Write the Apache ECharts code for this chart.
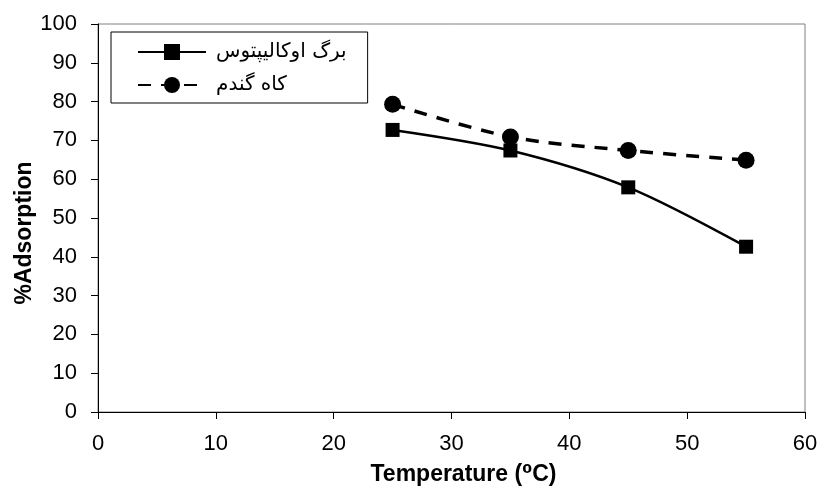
<!DOCTYPE html>
<html>
<head>
<meta charset="utf-8">
<script src="https://cdn.jsdelivr.net/npm/echarts@6/dist/echarts.min.js"></script>
<style>
  html, body { margin: 0; padding: 0; background: #fff; }
  #chart { width: 819px; height: 486px; }
</style>
</head>
<body>
<div id="chart"></div>
<script>
// Adsorption percentage versus temperature for two biosorbents
const temperatures = [25, 35, 45, 55];
const eucalyptusLeaf = [72.7, 67.4, 57.9, 42.6];   // برگ اوکالیپتوس
const wheatStraw = [79.3, 70.9, 67.4, 64.9];       // کاه گندم
const seriesNames = ['برگ اوکالیپتوس', 'کاه گندم'];

const chart = echarts.init(document.getElementById('chart'));
const fontFamily = '"Liberation Sans", Arial, "DejaVu Sans", sans-serif';

chart.setOption({
  animation: false,
  backgroundColor: '#fff',
  grid: {
    left: 98, right: 14, top: 24, bottom: 74,
    outerBoundsMode: 'none',
    containLabel: false,
    show: true, borderColor: '#808080', borderWidth: 1
  },
  legend: {
    left: 111, top: 32,
    orient: 'vertical',
    padding: [10, 21, 8, 26],
    itemGap: 13,
    itemWidth: 68,
    itemHeight: 20,
    borderColor: '#000',
    borderWidth: 1,
    textStyle: {
      fontSize: 20, color: '#000',
      fontFamily: '"DejaVu Sans", sans-serif',
      padding: [0, 0, 0, 5]
    },
    data: seriesNames
  },
  xAxis: {
    type: 'value',
    min: 0, max: 60, interval: 10,
    name: 'Temperature (⁰C)',
    nameLocation: 'middle',
    nameGap: 51,
    nameMoveOverlap: false,
    nameTextStyle: {
      fontSize: 23, fontWeight: 'bold', color: '#000', fontFamily,
      padding: [0, 0, 0, 24]
    },
    axisLine: { show: true, lineStyle: { color: '#000', width: 1 } },
    axisTick: { show: true, inside: false, length: 7, lineStyle: { color: '#000' } },
    axisLabel: { fontSize: 22, color: '#000', margin: 21, fontFamily },
    splitLine: { show: false }
  },
  yAxis: {
    type: 'value',
    min: 0, max: 100, interval: 10,
    name: '%Adsorption',
    nameLocation: 'middle',
    nameGap: 62,
    nameMoveOverlap: false,
    nameTextStyle: {
      fontSize: 23, fontWeight: 'bold', color: '#000', fontFamily,
      padding: [0, 30, 0, 0]
    },
    axisLine: { show: true, lineStyle: { color: '#000', width: 1 } },
    axisTick: { show: true, inside: false, length: 7, lineStyle: { color: '#000' } },
    axisLabel: { fontSize: 22, color: '#000', margin: 21, fontFamily },
    splitLine: { show: false }
  },
  series: [
    {
      name: seriesNames[0],
      type: 'line',
      smooth: 0.3,
      data: temperatures.map((t, i) => [t, eucalyptusLeaf[i]]),
      symbol: 'rect',
      symbolSize: 14,
      itemStyle: { color: '#000' },
      lineStyle: { color: '#000', width: 2.5, type: 'solid' }
    },
    {
      name: seriesNames[1],
      type: 'line',
      smooth: 0.3,
      data: temperatures.map((t, i) => [t, wheatStraw[i]]),
      symbol: 'circle',
      symbolSize: 17,
      itemStyle: { color: '#000' },
      lineStyle: { color: '#000', width: 3.5, type: [13, 10] }
    }
  ]
});
</script>
</body>
</html>
